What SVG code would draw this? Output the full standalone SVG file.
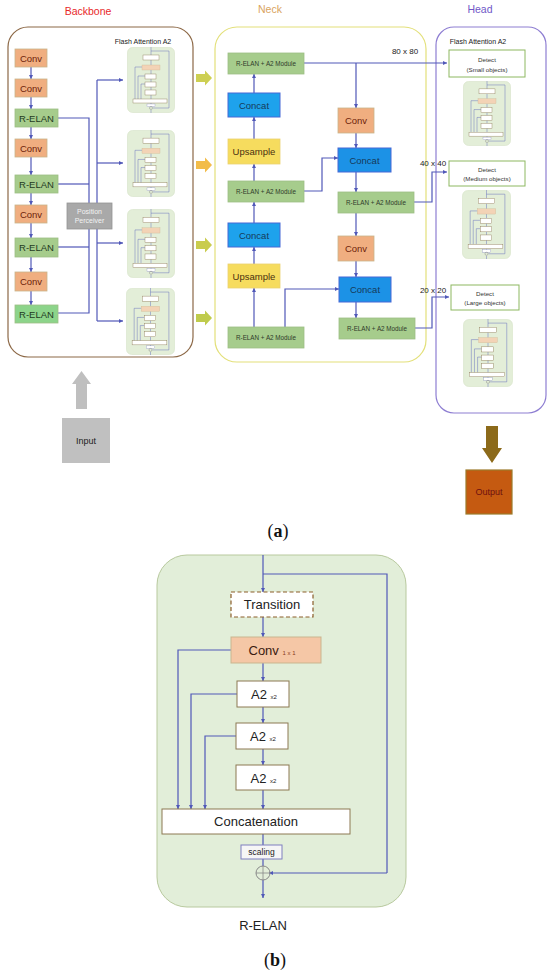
<svg xmlns="http://www.w3.org/2000/svg" width="550" height="976" viewBox="0 0 550 976">
<style>
text{font-family:"Liberation Sans","Open Sans",sans-serif;text-anchor:middle;dominant-baseline:central}
text.bl{dominant-baseline:alphabetic}
.ln{fill:none;stroke:#5058B8;stroke-width:1.2}
.la{fill:none;stroke:#5058B8;stroke-width:1.2;marker-end:url(#ah)}
.conv{fill:#F0AE80;stroke:#C8B48A;stroke-width:0.8}
.relan{fill:#A6CC8C;stroke:#9DBF84;stroke-width:0.8}
.concat{fill:#1EA2EC;stroke:#4668D6;stroke-width:1}
.ups{fill:#F6DC5E;stroke:#EBD170;stroke-width:0.8}
.det{fill:#fff;stroke:#8DB860;stroke-width:1}
.tconv{font-size:9.5px;fill:#6E1E0A}
.trel{font-size:9.5px;fill:#1F3A1F}
.tmod{font-size:6.3px;fill:#2F3A2A}
.tcat{font-size:9.5px;fill:#163A5A}
.tups{font-size:9.5px;fill:#4A3010}
.tdet{font-size:6.2px;fill:#333}
.small{font-size:7px;fill:#222}
.bb{fill:#fff;stroke:#8C7853;stroke-width:1}
</style>
<defs>
<marker id="ah" viewBox="0 0 6 6" refX="6" refY="3" markerWidth="4" markerHeight="4" markerUnits="userSpaceOnUse" orient="auto"><path d="M0,0 L6,3 L0,6 z" fill="#5058B8"/></marker>
<path id="yarr" d="M0,-4 L9,-4 L9,-7.5 L16,0 L9,7.5 L9,4 L0,4 z"/>
<symbol id="thumb" viewBox="0 0 48 66" preserveAspectRatio="none">
<rect x="0.5" y="0.5" width="47" height="65" rx="5" fill="#E3EED8" stroke="#D6E3C8" stroke-width="0.6"/>
<g fill="none" stroke="#5058B8" stroke-width="0.4">
<path d="M24,0 V8 M24,4 H42 V61 H26 M24,13 V18 M24,23 V27 M24,32 V35 M24,40 V43 M24,48 V52 M24,56 V59 M24,63 V66"/>
<path d="M15,20 H8 V52 M18,29 H11 V52 M18,37 H14 V52"/>
</g>
<rect x="16" y="8" width="16" height="5" fill="#fff" stroke="#8C7853" stroke-width="0.4"/>
<rect x="15" y="18" width="18" height="5" fill="#F3D3B6" stroke="#C9B18A" stroke-width="0.3"/>
<rect x="18" y="27" width="11" height="5" fill="#fff" stroke="#8C7853" stroke-width="0.4"/>
<rect x="18" y="35" width="11" height="5" fill="#fff" stroke="#8C7853" stroke-width="0.4"/>
<rect x="18" y="43" width="11" height="5" fill="#fff" stroke="#8C7853" stroke-width="0.4"/>
<rect x="6" y="52" width="34" height="4" fill="#fff" stroke="#8C7853" stroke-width="0.4"/>
<rect x="20" y="57" width="8" height="2.5" fill="#fff" stroke="#7F7FBF" stroke-width="0.3"/>
<circle cx="24" cy="61" r="1.5" fill="none" stroke="#777" stroke-width="0.4"/>
</symbol>
</defs>
<rect width="550" height="976" fill="#fff"/>

<!-- Titles -->
<text x="88" y="11" style="font-size:10.5px;fill:#E8282A">Backbone</text>
<text x="270" y="9" style="font-size:10.5px;fill:#D9A35E">Neck</text>
<text x="480" y="9" style="font-size:10.5px;fill:#7058C8">Head</text>

<!-- Containers -->
<g id="backbone-box"><rect x="8" y="27" width="185" height="330" rx="20" fill="none" stroke="#8C6846" stroke-width="1.2"/></g>
<g id="neck-box"><rect x="215" y="27" width="211" height="335" rx="22" fill="none" stroke="#E3E07A" stroke-width="1.2"/></g>
<g id="head-box"><rect x="436" y="27" width="110" height="386" rx="18" fill="none" stroke="#8E7ED2" stroke-width="1.2"/></g>

<text x="143" y="41" class="small">Flash Attention A2</text>
<text x="478" y="41" class="small">Flash Attention A2</text>

<!-- Connectors -->
<g id="connectors">
<path class="la" d="M31,67 V79"/>
<path class="la" d="M31,97 V109"/>
<path class="la" d="M31,127 V139"/>
<path class="la" d="M31,157 V175"/>
<path class="la" d="M31,193 V205"/>
<path class="la" d="M31,223 V238"/>
<path class="la" d="M31,257 V272"/>
<path class="la" d="M31,291 V305"/>
<path class="ln" d="M58,118 H89 V203"/>
<path class="ln" d="M58,184 H89"/>
<path class="ln" d="M58,247 H89"/>
<path class="ln" d="M58,313 H89 V229"/>
<path class="ln" d="M97,80 V321"/>
<path class="la" d="M97,80 H123"/>
<path class="la" d="M97,163 H123"/>
<path class="la" d="M97,243 H123"/>
<path class="la" d="M97,321 H123"/>
<path class="la" d="M254,327 V288"/>
<path class="la" d="M254,264 V247"/>
<path class="la" d="M254,223 V202"/>
<path class="la" d="M254,181 V164"/>
<path class="la" d="M254,139 V117"/>
<path class="la" d="M254,93 V74"/>
<path class="la" d="M304,63 H447"/>
<path class="la" d="M356,63 V108"/>
<path class="la" d="M356,133 V148"/>
<path class="la" d="M304,191 H322 V158 H338"/>
<path class="la" d="M356,172 V192"/>
<path class="la" d="M414,202 H432 V172 H447"/>
<path class="la" d="M356,213 V236"/>
<path class="la" d="M356,261 V277"/>
<path class="la" d="M285,327 V289 H339"/>
<path class="la" d="M356,302 V318"/>
<path class="la" d="M415,328 H432 V297 H449"/>
</g>

<text x="405" y="51" style="font-size:8px;fill:#222">80 x 80</text>
<text x="433" y="163" style="font-size:8px;fill:#222">40 x 40</text>
<text x="433" y="290" style="font-size:8px;fill:#222">20 x 20</text>

<!-- Backbone nodes -->
<g id="bb-conv1"><rect x="15" y="49" width="32" height="18" class="conv"/><text x="31" y="58.5" class="tconv">Conv</text></g>
<g id="bb-conv2"><rect x="15" y="79" width="32" height="18" class="conv"/><text x="31" y="88.5" class="tconv">Conv</text></g>
<g id="bb-relan1"><rect x="15" y="109" width="43" height="18" class="relan"/><text x="36.5" y="118.5" class="trel">R-ELAN</text></g>
<g id="bb-conv3"><rect x="15" y="139" width="32" height="18" class="conv"/><text x="31" y="148.5" class="tconv">Conv</text></g>
<g id="bb-relan2"><rect x="15" y="175" width="43" height="18" class="relan"/><text x="36.5" y="184.5" class="trel">R-ELAN</text></g>
<g id="bb-conv4"><rect x="15" y="205" width="32" height="18" class="conv"/><text x="31" y="214.5" class="tconv">Conv</text></g>
<g id="bb-relan3"><rect x="15" y="238" width="43" height="19" class="relan"/><text x="36.5" y="247.5" class="trel">R-ELAN</text></g>
<g id="bb-conv5"><rect x="15" y="272" width="32" height="19" class="conv"/><text x="31" y="281.5" class="tconv">Conv</text></g>
<g id="bb-relan4"><rect x="15" y="305" width="43" height="18" class="relan" style="fill:#8CD48A"/><text x="36.5" y="314" class="trel">R-ELAN</text></g>
<g id="position-perceiver"><rect x="67" y="203" width="45" height="26" fill="#A9A9A9" stroke="#959595" stroke-width="0.8"/><text x="89.5" y="211.5" style="font-size:7px;fill:#F2F2F2">Position</text><text x="89.5" y="220.5" style="font-size:7px;fill:#F2F2F2">Perceiver</text></g>

<!-- Backbone thumbnails -->
<g id="bb-fa1"><use href="#thumb" x="127" y="47" width="48" height="66"/></g>
<g id="bb-fa2"><use href="#thumb" x="127" y="130" width="48" height="67"/></g>
<g id="bb-fa3"><use href="#thumb" x="127" y="209" width="48" height="69"/></g>
<g id="bb-fa4"><use href="#thumb" x="126" y="288" width="49" height="67"/></g>

<!-- Block arrows backbone to neck -->
<g id="bridge-arrows">
<use href="#yarr" x="196" y="78" fill="#CDCF52"/>
<use href="#yarr" x="196" y="165" fill="#F2BC4A"/>
<use href="#yarr" x="196" y="245" fill="#C9CC4E"/>
<use href="#yarr" x="196" y="318" fill="#BFCB4C"/>
</g>

<!-- Neck nodes -->
<g id="nk-mod1"><rect x="228" y="53" width="76" height="21" class="relan"/><text x="266" y="63.5" class="tmod">R-ELAN + A2 Module</text></g>
<g id="nk-concat1"><rect x="228" y="93" width="52" height="24" class="concat"/><text x="254" y="105" class="tcat">Concat</text></g>
<g id="nk-ups1"><rect x="228" y="139" width="52" height="25" class="ups"/><text x="254" y="151.5" class="tups">Upsample</text></g>
<g id="nk-mod2"><rect x="228" y="181" width="76" height="21" class="relan"/><text x="266" y="191.5" class="tmod">R-ELAN + A2 Module</text></g>
<g id="nk-concat2"><rect x="228" y="223" width="52" height="24" class="concat"/><text x="254" y="235" class="tcat">Concat</text></g>
<g id="nk-ups2"><rect x="228" y="264" width="52" height="24" class="ups"/><text x="254" y="276" class="tups">Upsample</text></g>
<g id="nk-mod3"><rect x="228" y="327" width="76" height="21" class="relan"/><text x="266" y="337.5" class="tmod">R-ELAN + A2 Module</text></g>
<g id="nk-conv1"><rect x="338" y="108" width="36" height="25" class="conv"/><text x="356" y="120.5" class="tconv">Conv</text></g>
<g id="nk-concat3"><rect x="338" y="148" width="53" height="24" class="concat" style="fill:#1C92E6"/><text x="364.5" y="160" class="tcat">Concat</text></g>
<g id="nk-mod4"><rect x="338" y="192" width="76" height="21" class="relan"/><text x="376" y="202.5" class="tmod">R-ELAN + A2 Module</text></g>
<g id="nk-conv2"><rect x="338" y="236" width="36" height="25" class="conv"/><text x="356" y="248.5" class="tconv">Conv</text></g>
<g id="nk-concat4"><rect x="339" y="277" width="52" height="25" class="concat" style="fill:#1C92E6"/><text x="365" y="289.5" class="tcat">Concat</text></g>
<g id="nk-mod5"><rect x="339" y="318" width="76" height="21" class="relan"/><text x="377" y="328.5" class="tmod">R-ELAN + A2 Module</text></g>

<!-- Head nodes -->
<g id="hd-det1"><rect x="449" y="50" width="76" height="27" class="det"/><text x="487" y="59" class="tdet">Detect</text><text x="487" y="69" class="tdet">(Small objects)</text></g>
<g id="hd-fa1"><use href="#thumb" x="463" y="81" width="48" height="65"/></g>
<g id="hd-det2"><rect x="449" y="161" width="76" height="25" class="det"/><text x="487" y="169" class="tdet">Detect</text><text x="487" y="178.5" class="tdet">(Medium objects)</text></g>
<g id="hd-fa2"><use href="#thumb" x="462" y="190" width="49" height="69"/></g>
<g id="hd-det3"><rect x="451" y="285" width="68" height="25" class="det"/><text x="485" y="293" class="tdet">Detect</text><text x="485" y="302.5" class="tdet">(Large objects)</text></g>
<g id="hd-fa3"><use href="#thumb" x="463" y="319" width="50" height="68"/></g>

<!-- Input / Output -->
<g id="input-arrow"><path d="M76,409 V384 H72 L81.5,371 L91,384 H87 V409 z" fill="#BFBFBF"/></g>
<g id="input"><rect x="62" y="418" width="48" height="45" fill="#C0C0C0"/><text x="86" y="441" style="font-size:9px;fill:#222">Input</text></g>
<g id="output-arrow"><path d="M486,426 V448 H482 L492,463 L502,448 H498 V426 z" fill="#8C6A1A"/></g>
<g id="output"><rect x="466" y="470" width="46" height="44" fill="#C55A11" stroke="#9C7A2A" stroke-width="1.2"/><text x="489" y="492" style="font-size:9px;fill:#6E1010">Output</text></g>

<text x="278" y="531" style="font-family:'Liberation Serif',serif;font-size:18px;fill:#111">(<tspan font-weight="bold">a</tspan>)</text>

<!-- Part (b): R-ELAN detail -->
<g id="relan-container"><rect x="157" y="555" width="249" height="352" rx="30" fill="#E2EED9" stroke="#B8C99E" stroke-width="1"/></g>
<g id="relan-connectors">
<path class="ln" d="M263,555 V574"/>
<path class="la" d="M263,574 V592"/>
<path class="ln" d="M263,574 H387 V873"/>
<path class="la" d="M387,873 H269"/>
<path class="la" d="M263,617 V637"/>
<path class="la" d="M263,663 V681"/>
<path class="la" d="M263,707 V723"/>
<path class="la" d="M263,749 V765"/>
<path class="la" d="M263,790 V809"/>
<path class="la" d="M231,650 H178 V809"/>
<path class="la" d="M237,694 H191 V809"/>
<path class="la" d="M236,736 H205 V809"/>
<path class="ln" d="M263,834 V845"/>
<path class="ln" d="M263,859 V866"/>
<path class="la" d="M263,880 V898"/>
</g>
<g id="transition"><rect x="231" y="592" width="82" height="25" fill="#fff" stroke="#8B5E2B" stroke-width="1.2" stroke-dasharray="4,2.5"/><text x="272" y="604.5" style="font-size:13px;fill:#222">Transition</text></g>
<g id="conv1x1"><rect x="231" y="637" width="90" height="26" fill="#F5C7A6" stroke="#C9B58F" stroke-width="1"/><text x="272" y="655" class="bl" style="font-size:13px;fill:#3A1A10">Conv <tspan style="font-size:6px;fill:#8A3A20">1 x 1</tspan></text></g>
<g id="a2-1"><rect x="237" y="681" width="52" height="26" class="bb"/><text x="264" y="699" class="bl" style="font-size:13px;fill:#222">A2 <tspan style="font-size:6px">x2</tspan></text></g>
<g id="a2-2"><rect x="236" y="723" width="52" height="26" class="bb"/><text x="263" y="741" class="bl" style="font-size:13px;fill:#222">A2 <tspan style="font-size:6px">x2</tspan></text></g>
<g id="a2-3"><rect x="236" y="765" width="53" height="25" class="bb"/><text x="263.5" y="782.5" class="bl" style="font-size:13px;fill:#222">A2 <tspan style="font-size:6px">x2</tspan></text></g>
<g id="concatenation"><rect x="162" y="809" width="188" height="25" class="bb"/><text x="256" y="821.5" style="font-size:13px;fill:#222">Concatenation</text></g>
<g id="scaling"><rect x="241" y="845" width="41" height="14" fill="#F6F6F6" stroke="#7F7FBF" stroke-width="1"/><text x="261.5" y="852" style="font-size:8.5px;fill:#222">scaling</text></g>
<g id="add"><circle cx="263" cy="873" r="7" fill="none" stroke="#888" stroke-width="1"/><path d="M256,873 H270 M263,866 V880" stroke="#888" stroke-width="0.8"/></g>
<text x="263" y="925" style="font-size:13px;fill:#222">R-ELAN</text>
<text x="275" y="960" style="font-family:'Liberation Serif',serif;font-size:18px;fill:#111">(<tspan font-weight="bold">b</tspan>)</text>
</svg>
